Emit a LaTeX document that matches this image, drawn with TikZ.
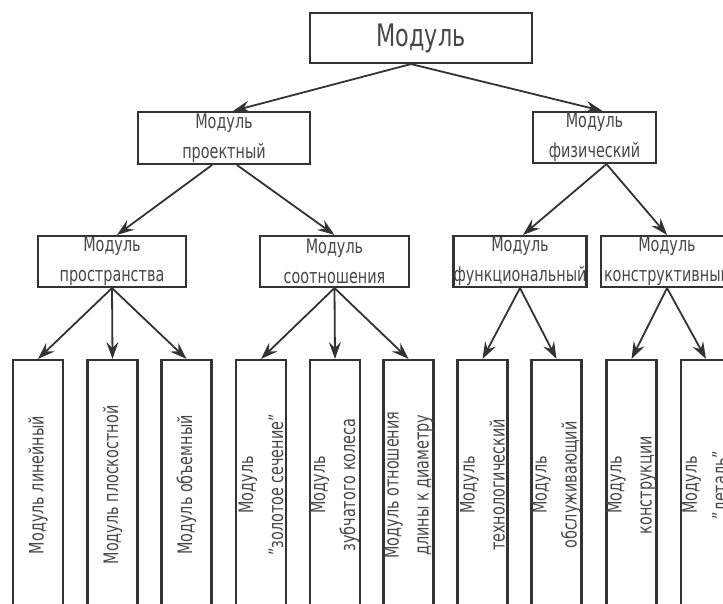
\documentclass[tikz,border=0pt]{standalone}
\usepackage{fontspec}
\setmainfont{DejaVu Sans}[FakeStretch=0.72]
\usetikzlibrary{arrows.meta}

\begin{document}
\begin{tikzpicture}[x=1pt,y=-1pt,
  box/.style={draw=black!80, line width=2.1pt, inner sep=0pt, align=center, text=black!72, font=\fontsize{20}{30}\selectfont},
  leaf/.style={box, rotate=90, minimum width=250pt, minimum height=50pt},
  arr/.style={-{Stealth[length=17pt,width=12pt,inset=6pt]}, draw=black!80, line width=1.8pt}]
 % Frame
 \useasboundingbox (0,0) rectangle (723,604);
 \clip (0,0) rectangle (723,604);

 % Top box
 \node[box, minimum width=222pt, minimum height=50pt, font=\fontsize{31}{31}\selectfont] (modul) at (421,38) {Модуль};

 % Second level
 \node[box, minimum width=172pt, minimum height=52pt] (proekt) at (224,138) {Модуль\\проектный};
 \node[box, minimum width=123pt, minimum height=51pt] (fiz) at (594.5,137.5) {Модуль\\физический};

 % Third level
 \node[box, minimum width=148pt, minimum height=51pt] (prostr) at (112,261.5) {Модуль\\пространства};
 \node[box, minimum width=149pt, minimum height=51pt] (sootn) at (334.5,261.5) {Модуль\\соотношения};
 \node[box, minimum width=124pt, minimum height=51pt] (funk) at (520,261.5) {Модуль\\функциональный};
 \node[box, minimum width=132pt, minimum height=51pt] (konstr) at (667,261.5) {Модуль\\конструктивный};

 % Leaves
 \node[leaf] (lin) at (38,485) {Модуль линейный};
 \node[leaf] (plosk) at (112.5,485) {Модуль плоскостной};
 \node[leaf] (obem) at (186.5,485) {Модуль объемный};
 \node[leaf] (zolot) at (261,485) {Модуль\\"золотое сечение"};
 \node[leaf] (zub) at (335,485) {Модуль\\зубчатого колеса};
 \node[leaf] (otn) at (408.5,485) {Модуль отношения\\длины к диаметру};
 \node[leaf] (tehn) at (482.5,485) {Модуль\\технологический};
 \node[leaf] (obsl) at (556.5,485) {Модуль\\обслуживающий};
 \node[leaf] (konstrk) at (631.5,485) {Модуль\\конструкции};
 \node[leaf] (detal) at (706,485) {Модуль\\"деталь"};

 % Arrows from top
 \draw[arr] ([xshift=-10pt]modul.south) -- ([xshift=9pt]proekt.north);
 \draw[arr] ([xshift=-10pt]modul.south) -- ([xshift=8pt]fiz.north);

 % Arrows to third level
 \draw[arr] ([xshift=-12pt]proekt.south) -- ([xshift=5pt]prostr.north);
 \draw[arr] ([xshift=13pt]proekt.south) -- (sootn.north);
 \draw[arr] ([xshift=12pt]fiz.south) -- ([xshift=3pt]funk.north);
 \draw[arr] ([xshift=12pt]fiz.south) -- (konstr.north);

 % Arrows to leaves
 \draw[arr] (prostr.south) -- (lin.east);
 \draw[arr] (prostr.south) -- (plosk.east);
 \draw[arr] (prostr.south) -- (obem.east);
 \draw[arr] (sootn.south) -- (zolot.east);
 \draw[arr] (sootn.south) -- (zub.east);
 \draw[arr] (sootn.south) -- (otn.east);
 \draw[arr] (funk.south) -- (tehn.east);
 \draw[arr] (funk.south) -- (obsl.east);
 \draw[arr] (konstr.south) -- (konstrk.east);
 \draw[arr] (konstr.south) -- (detal.east);
\end{tikzpicture}
\end{document}
